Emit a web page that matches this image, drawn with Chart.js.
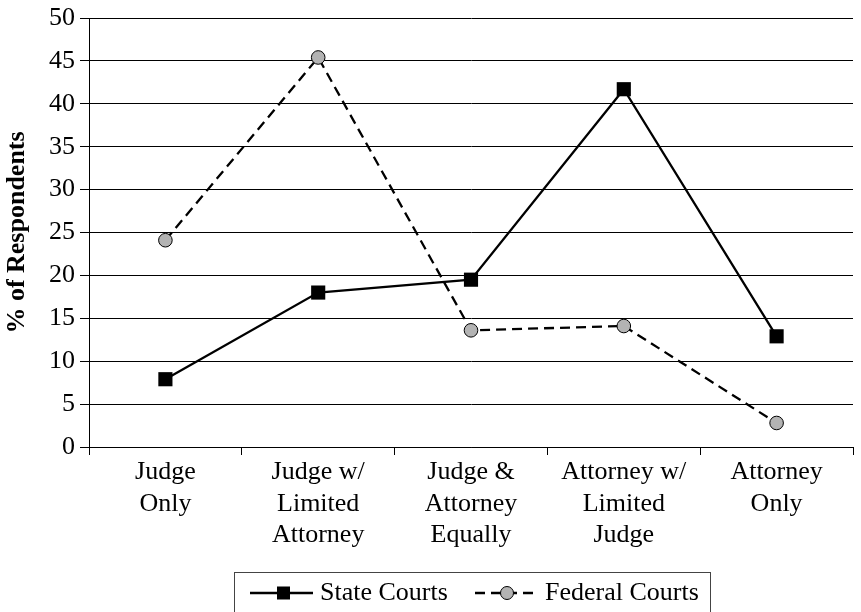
<!DOCTYPE html>
<html>
<head>
<meta charset="utf-8">
<script src="https://cdn.jsdelivr.net/npm/chart.js@4/dist/chart.umd.min.js"></script>
<style>
  html, body { margin: 0; padding: 0; background: #fff; overflow: hidden; }
  #wrap { position: relative; width: 863px; height: 612px; }
</style>
</head>
<body>
<div id="wrap"><canvas id="c"></canvas></div>
<script>
const categories = [
  ["Judge", "Only"],
  ["Judge w/", "Limited", "Attorney"],
  ["Judge &", "Attorney", "Equally"],
  ["Attorney w/", "Limited", "Judge"],
  ["Attorney", "Only"]
];
const stateCourts = [7.9, 18.0, 19.5, 41.7, 12.9];
const federalCourts = [24.1, 45.4, 13.6, 14.1, 2.8];
const seriesLabels = ["State Courts", "Federal Courts"];
const yTickValues = [0, 5, 10, 15, 20, 25, 30, 35, 40, 45, 50];
const yTitle = "% of Respondents";

const FONT = "'Liberation Serif', 'Times New Roman', serif";

const legendPlugin = {
  id: 'boxLegend',
  afterDraw(chart) {
    const ctx = chart.ctx;
    ctx.save();
    ctx.strokeStyle = '#444';
    ctx.lineWidth = 1;
    ctx.strokeRect(234.5, 572.5, 476, 50);
    const cy = 593;
    ctx.font = "26px " + FONT;
    ctx.fillStyle = '#000';
    ctx.textBaseline = 'middle';
    ctx.textAlign = 'left';
    // State Courts sample
    ctx.strokeStyle = '#000';
    ctx.lineWidth = 2.3;
    ctx.setLineDash([]);
    ctx.beginPath(); ctx.moveTo(250, cy); ctx.lineTo(313, cy); ctx.stroke();
    ctx.fillRect(277, cy - 6.5, 13, 13);
    ctx.fillText(chart.data.datasets[0].label, 320, cy);
    // Federal Courts sample
    ctx.setLineDash([10, 6]);
    ctx.beginPath(); ctx.moveTo(475, cy); ctx.lineTo(539, cy); ctx.stroke();
    ctx.setLineDash([]);
    ctx.beginPath(); ctx.arc(507, cy, 6.5, 0, Math.PI * 2);
    ctx.fillStyle = '#b3b3b3'; ctx.fill();
    ctx.lineWidth = 1; ctx.strokeStyle = '#000'; ctx.stroke();
    ctx.fillStyle = '#000';
    ctx.fillText(chart.data.datasets[1].label, 545, cy);
    ctx.restore();
  }
};

new Chart(document.getElementById('c'), {
  type: 'line',
  data: {
    labels: categories,
    datasets: [
      {
        label: seriesLabels[0],
        data: stateCourts,
        borderColor: '#000',
        borderWidth: 2.3,
        pointStyle: 'rect',
        pointRadius: 10,
        pointBackgroundColor: '#000',
        pointBorderColor: '#000',
        pointBorderWidth: 0,
        tension: 0,
        fill: false
      },
      {
        label: seriesLabels[1],
        data: federalCourts,
        borderColor: '#000',
        borderWidth: 2.3,
        borderDash: [10, 6],
        pointStyle: 'circle',
        pointRadius: 6.8,
        pointBackgroundColor: '#b3b3b3',
        pointBorderColor: '#000',
        pointBorderWidth: 1,
        tension: 0,
        fill: false
      }
    ]
  },
  options: {
    responsive: true,
    maintainAspectRatio: false,
    animation: false,
    layout: { padding: { top: 15, left: 0, right: 0, bottom: 0 } },
    plugins: { legend: { display: false }, tooltip: { enabled: false }, title: { display: false } },
    scales: {
      x: {
        type: 'category',
        offset: true,
        grid: { display: true, drawOnChartArea: false, drawTicks: true, tickLength: 8, offset: true, color: '#000', lineWidth: 1 },
        border: { display: true, color: '#000', width: 1 },
        ticks: {
          color: '#000',
          font: { family: FONT, size: 26, lineHeight: 1.2 },
          padding: 2,
          maxRotation: 0,
          autoSkip: false
        },
        afterFit(scale) { scale.height = 165; }
      },
      y: {
        min: 0,
        max: 50,
        afterBuildTicks(scale) { scale.ticks = yTickValues.map(v => ({ value: v })); },
        grid: { color: '#000', lineWidth: 1, tickLength: 9, drawTicks: true },
        border: { display: true, color: '#000', width: 1 },
        ticks: {
          color: '#000',
          font: { family: FONT, size: 26, lineHeight: 1 },
          padding: 5
        },
        title: {
          display: true,
          text: yTitle,
          color: '#000',
          font: { family: FONT, size: 26, weight: 'bold', lineHeight: 1.2 },
          padding: { top: 2, bottom: 0 }
        },
        afterFit(scale) { scale.width = 89; }
      }
    }
  },
  plugins: [legendPlugin]
});
</script>
</body>
</html>
